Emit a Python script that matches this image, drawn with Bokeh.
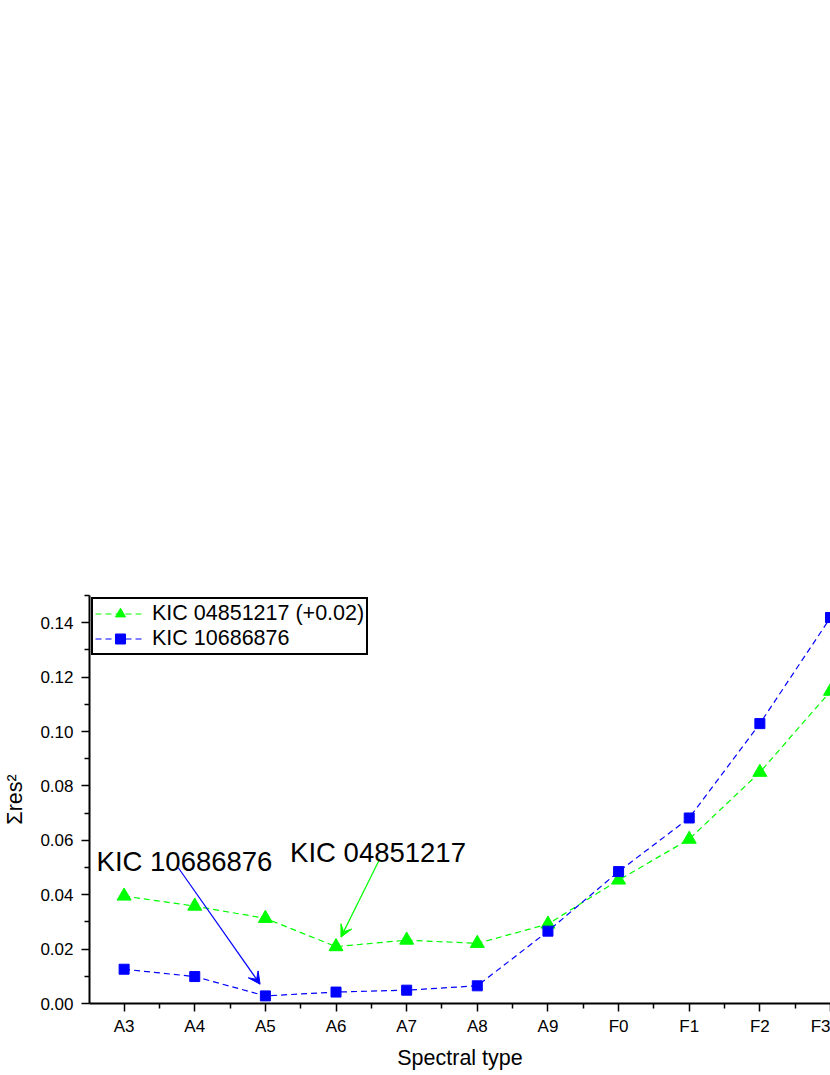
from bokeh.plotting import figure
from bokeh.models import (FixedTicker, Legend, LegendItem, Arrow, VeeHead, Label,
                          NumeralTickFormatter, Range1d)
from bokeh.embed import file_html
from bokeh.resources import INLINE

# ---- data ----
spectral_types = ["A3", "A4", "A5", "A6", "A7", "A8", "A9", "F0", "F1", "F2", "F3"]
kic_04851217 = [0.0395, 0.0358, 0.0313, 0.0209, 0.0233, 0.0221, 0.0292, 0.0454, 0.0604, 0.0850, 0.1148]
kic_10686876 = [0.0126, 0.0099, 0.0028, 0.0042, 0.0049, 0.0065, 0.0266, 0.0485, 0.0682, 0.1029, 0.1419]
y_ticks = [0.0, 0.02, 0.04, 0.06, 0.08, 0.10, 0.12, 0.14]
y_minor = [0.01, 0.03, 0.05, 0.07, 0.09, 0.11, 0.13, 0.15]

# annotations (data coordinates)
ann_blue_text = ("KIC 10686876", -0.39, 0.0522)
ann_blue_arrow = (0.767, 0.0499, 1.925, 0.0071)
ann_green_text = ("KIC 04851217", 2.35, 0.0554)
ann_green_arrow = (3.62, 0.0532, 3.07, 0.0244)

xs = list(range(len(spectral_types)))
FONT = "Liberation Sans"
GREEN = "#00ff00"
BLUE = "#0000ff"

p = figure(width=830, height=1072, output_backend="svg", toolbar_location=None,
           x_range=Range1d(-0.49, 10.0), y_range=Range1d(0, 0.15),
           min_border_left=88, min_border_right=0, min_border_top=595,
           min_border_bottom=69)
p.outline_line_color = None
p.grid.visible = False
p.background_fill_color = "white"

gl = p.line(xs, kic_04851217, line_color=GREEN, line_width=1.2, line_dash="6 4")
gm = p.scatter(xs, kic_04851217, marker="triangle", size=14, fill_color=GREEN, line_color=GREEN)
bl = p.line(xs, kic_10686876, line_color=BLUE, line_width=1.2, line_dash="6 4")
bm = p.scatter(xs, kic_10686876, marker="square", size=10, fill_color=BLUE, line_color=BLUE)

# axes
xa = p.xaxis[0]
xa.ticker = FixedTicker(ticks=xs, minor_ticks=[i + 0.5 for i in range(-1, len(xs))])
xa.major_label_overrides = {i: s for i, s in enumerate(spectral_types)}
ya = p.yaxis[0]
ya.ticker = FixedTicker(ticks=y_ticks, minor_ticks=y_minor)
ya.formatter = NumeralTickFormatter(format="0.00")

for ax in (xa, ya):
    ax.axis_line_width = 2
    ax.axis_line_color = "black"
    ax.major_tick_line_width = 1.5
    ax.minor_tick_line_width = 1.5
    ax.major_tick_line_color = "black"
    ax.minor_tick_line_color = "black"
    ax.major_tick_in = 0
    ax.major_tick_out = 8
    ax.minor_tick_in = 0
    ax.minor_tick_out = 5
    ax.major_label_text_font = FONT
    ax.major_label_text_font_size = "17px"
    ax.major_label_text_color = "black"
    ax.axis_label_text_font = FONT
    ax.axis_label_text_font_size = "21.5px"
    ax.axis_label_text_font_style = "normal"
    ax.axis_label_text_color = "black"

xa.axis_label = "Spectral type"
xa.major_label_standoff = 5
xa.axis_label_standoff = 7
ya.axis_label = "Σres²"
ya.major_label_standoff = 8
ya.axis_label_standoff = 10

legend = Legend(items=[
    LegendItem(label="KIC 04851217 (+0.02)", renderers=[gl, gm]),
    LegendItem(label="KIC 10686876", renderers=[bl, bm]),
], location="top_left")
legend.margin = 2
legend.padding = 2
legend.spacing = 0
legend.glyph_width = 50
legend.glyph_height = 25
legend.label_height = 25
legend.label_standoff = 7
legend.label_text_font = FONT
legend.label_text_font_size = "21.5px"
legend.label_text_color = "black"
legend.border_line_color = "black"
legend.border_line_width = 2
legend.border_line_alpha = 1
legend.background_fill_alpha = 1
p.add_layout(legend)

# annotations
p.add_layout(Arrow(x_start=ann_blue_arrow[0], y_start=ann_blue_arrow[1],
                   x_end=ann_blue_arrow[2], y_end=ann_blue_arrow[3],
                   line_color=BLUE, line_width=1.2,
                   end=VeeHead(size=12, fill_color=BLUE, line_color=BLUE, line_width=1)))
p.add_layout(Arrow(x_start=ann_green_arrow[0], y_start=ann_green_arrow[1],
                   x_end=ann_green_arrow[2], y_end=ann_green_arrow[3],
                   line_color=GREEN, line_width=1.2,
                   end=VeeHead(size=12, fill_color=GREEN, line_color=GREEN, line_width=1)))
for txt, tx, ty in (ann_blue_text, ann_green_text):
    p.add_layout(Label(x=tx, y=ty, text=txt, text_font=FONT, text_font_size="27.5px",
                       text_baseline="alphabetic", text_align="left", text_color="black"))

open("out.html", "w").write(file_html(p, INLINE))
